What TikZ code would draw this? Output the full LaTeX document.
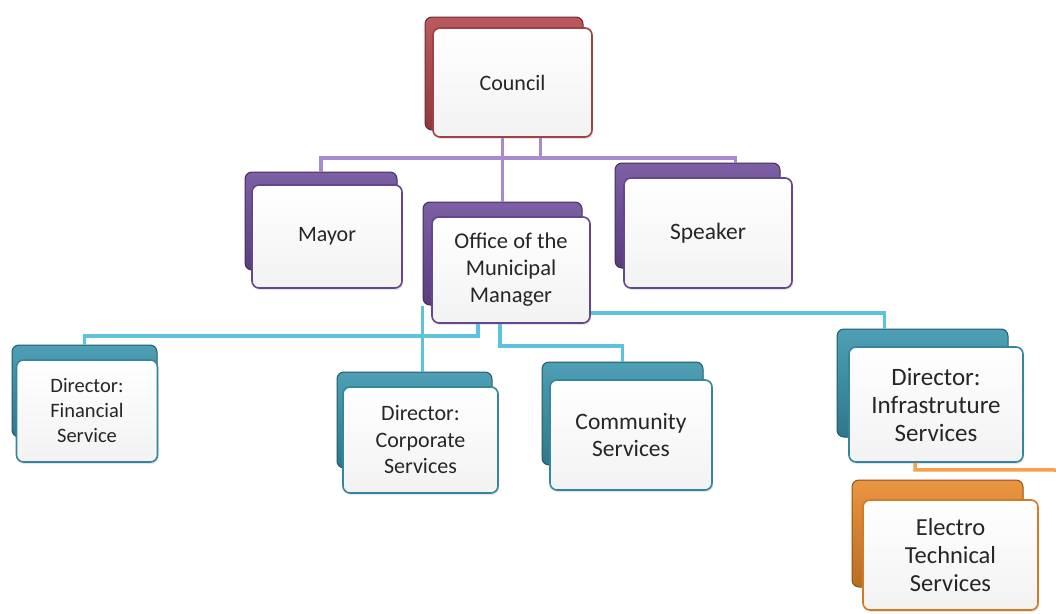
\documentclass[tikz,border=0pt]{standalone}
\usepackage{fontspec}
\setmainfont{Carlito}
\usetikzlibrary{shadows}
\definecolor{cRed}{HTML}{B3474C}
\definecolor{cPur}{HTML}{6E4E9A}
\definecolor{cBlue}{HTML}{3A95AD}
\definecolor{cOr}{HTML}{E8892C}
\definecolor{lPur}{HTML}{A78ACF}
\definecolor{lBlue}{HTML}{5CC2DE}
\definecolor{lOr}{HTML}{F7A04A}
\newcommand\fsz[2]{\fontsize{#1}{#2}\selectfont}
\tikzset{
  backcard/.style={rounded corners=7pt, draw=#1!60!black, line width=1pt,
    top color=#1!90!white, bottom color=#1!80!black, inner sep=0pt},
  frontcard/.style={rounded corners=7pt, draw=#1!90!black, line width=1.6pt,
    top color=white, bottom color=black!5, inner sep=0pt, align=center,
    text=black!85, drop shadow={opacity=0.2, shadow xshift=1pt, shadow yshift=-2pt}},
  link/.style={line width=3.5pt, draw=#1}
}
\begin{document}
\begin{tikzpicture}[x=1pt,y=-1pt]
\useasboundingbox (0,0) rectangle (1056,613);
\fill[white] (0,0) rectangle (1056,613);

% back cards
\node[backcard=cRed, minimum width=158pt, minimum height=113pt] (councilB) at (504,73.5) {};
\node[backcard=cPur, minimum width=152pt, minimum height=98pt] (mayorB) at (321,221) {};
\node[backcard=cPur, minimum width=159pt, minimum height=103pt] (officeB) at (502.5,253.5) {};
\node[backcard=cPur, minimum width=165pt, minimum height=105pt] (speakerB) at (697.5,215.5) {};
\node[backcard=cBlue, minimum width=145pt, minimum height=92pt] (financialB) at (84.5,391) {};
\node[backcard=cBlue, minimum width=155pt, minimum height=96pt] (corporateB) at (414.5,420) {};
\node[backcard=cBlue, minimum width=161pt, minimum height=103pt] (communityB) at (622.5,413.5) {};
\node[backcard=cBlue, minimum width=171pt, minimum height=108pt] (infraB) at (922.5,383) {};
\node[backcard=cOr, minimum width=171pt, minimum height=107pt] (electroB) at (937.5,533.5) {};

% front cards
\node[frontcard=cRed, minimum width=159pt, minimum height=109pt, font=\fsz{22}{27}] (council) at (512.5,82.5) {Council};
\node[frontcard=cPur, minimum width=150pt, minimum height=103pt, font=\fsz{22}{27}] (mayor) at (327,236.5) {Mayor};
\node[frontcard=cPur, minimum width=158pt, minimum height=106pt, font=\fsz{22.5}{27}] (office) at (511,270) {Office of the\\Municipal\\Manager};
\node[frontcard=cPur, minimum width=168pt, minimum height=110pt, font=\fsz{23.5}{28}] (speaker) at (708,233) {Speaker};
\node[frontcard=cBlue, minimum width=141pt, minimum height=102pt, font=\fsz{20.5}{25}] (financial) at (87,411) {Director:\\Financial\\Service};
\node[frontcard=cBlue, minimum width=155pt, minimum height=106pt, font=\fsz{22}{26.5}] (corporate) at (420.5,440) {Director:\\Corporate\\Services};
\node[frontcard=cBlue, minimum width=162pt, minimum height=110pt, font=\fsz{23.5}{27.5}] (community) at (631,435) {Community\\Services};
\node[frontcard=cBlue, minimum width=174pt, minimum height=115pt, font=\fsz{25}{28}] (infra) at (936,404.5) {Director:\\Infrastruture\\Services};
\node[frontcard=cOr, minimum width=175pt, minimum height=110pt, font=\fsz{24.5}{28}] (electro) at (950.5,555) {Electro\\Technical\\Services};

% connectors
\coordinate (corpIn) at ([xshift=8pt]corporateB.north);
\coordinate (orEnd) at (1060,470);

\draw[link=lPur] (council.south -| officeB.north) -- (officeB.north);
\draw[link=lPur] ([xshift=28pt]council.south) -- ++(0,20) -| (mayorB.north);
\draw[link=lPur] ([xshift=28pt]council.south) -- ++(0,20) -| ([xshift=38pt]speakerB.north);

\draw[link=lBlue] ([xshift=-33pt]office.south) -- ++(0,12) -| (financialB.north);
\draw[link=lBlue] (officeB.south -| corpIn) -- (corpIn);
\draw[link=lBlue] ([xshift=-11pt]office.south) -- ++(0,22) -| (communityB.north);
\draw[link=lBlue] ([yshift=-43pt]office.east) -| ([xshift=-38pt]infraB.north);

\draw[link=lOr] ([xshift=-21pt]infra.south) -- ++(0,7) -- (orEnd);
\end{tikzpicture}
\end{document}
